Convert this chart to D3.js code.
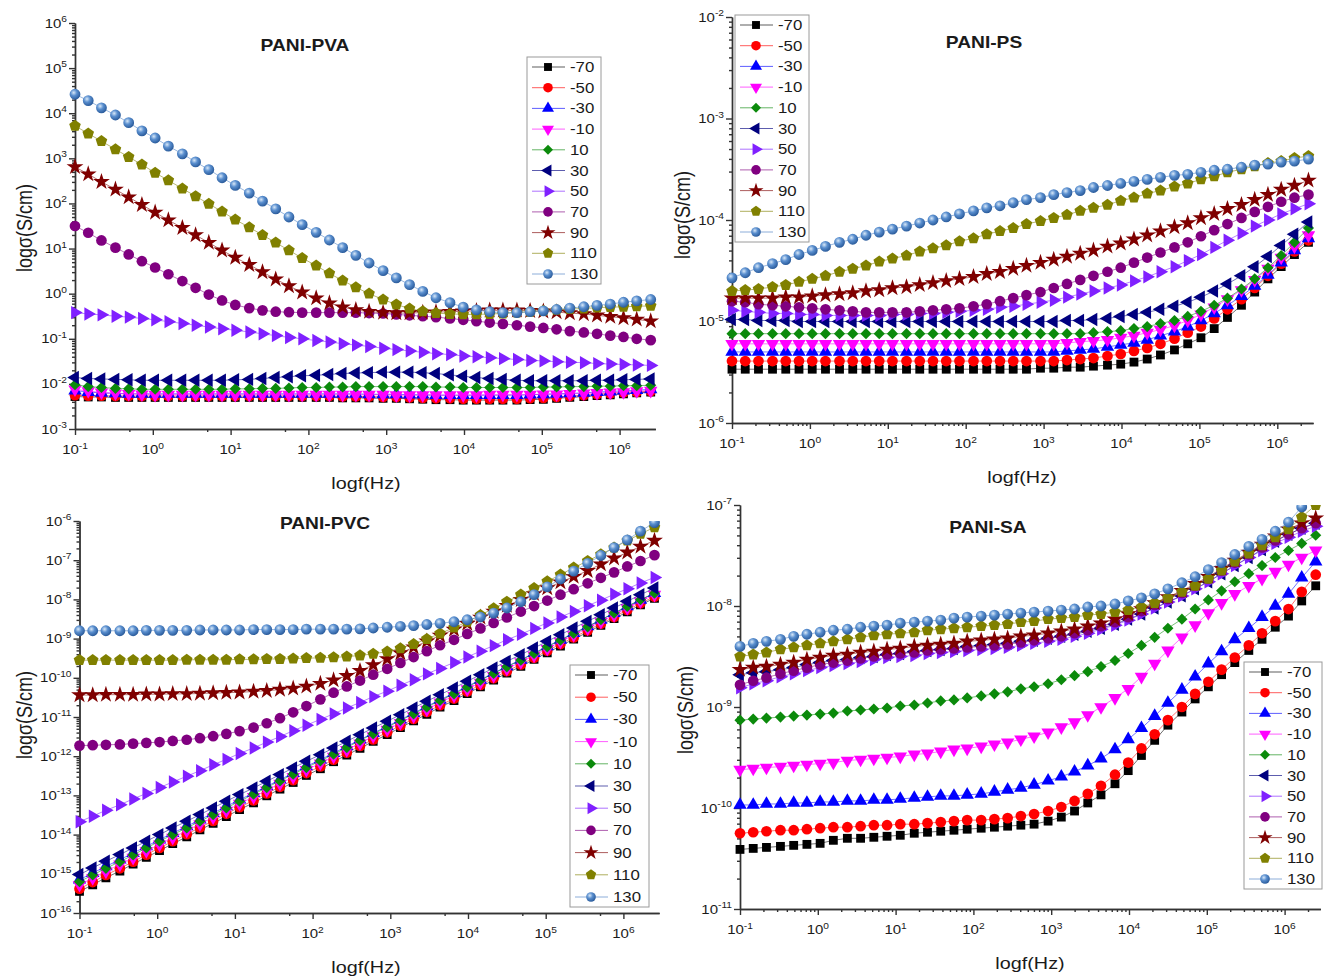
<!DOCTYPE html>
<html lang="en">
<head>
<meta charset="UTF-8">
<title>PANI composites - log conductivity vs log frequency</title>
<script src="https://d3js.org/d3.v7.min.js"></script>
<style>
  body { margin: 0; background: #fff; }
  svg text { font-family: "Liberation Sans", Arial, sans-serif; fill: #1a1a1a; }
</style>
</head>
<body>
<svg width="1330" height="977"></svg>
<script>
// legend labels (temperature of each run)
var temps = ["-70", "-50", "-30", "-10", "10", "30", "50", "70", "90", "110", "130"];

// log10 of the measuring frequencies (Hz), same for every run
var logF = [-1.00,-0.83,-0.66,-0.48,-0.31,-0.14,0.03,0.20,0.38,0.55,0.72,
            0.89,1.06,1.24,1.41,1.58,1.75,1.92,2.10,2.27,2.44,2.61,
            2.78,2.96,3.13,3.30,3.47,3.64,3.82,3.99,4.16,4.33,4.50,
            4.68,4.85,5.02,5.19,5.36,5.54,5.71,5.88,6.05,6.22,6.40];

// ---- PANI-PVA, log10(sigma) ----
var pvaM70 = [-2.28,-2.29,-2.29,-2.30,-2.30,-2.30,-2.30,-2.30,-2.30,-2.30,-2.30,
              -2.30,-2.30,-2.30,-2.30,-2.30,-2.30,-2.30,-2.30,-2.30,-2.31,-2.31,
              -2.31,-2.32,-2.32,-2.33,-2.34,-2.35,-2.35,-2.36,-2.36,-2.36,-2.36,
              -2.36,-2.35,-2.34,-2.32,-2.30,-2.28,-2.26,-2.24,-2.22,-2.20,-2.18];
var pvaM50 = [-2.25,-2.26,-2.26,-2.27,-2.27,-2.27,-2.27,-2.27,-2.27,-2.27,-2.27,
              -2.27,-2.27,-2.27,-2.27,-2.27,-2.27,-2.27,-2.27,-2.27,-2.28,-2.28,
              -2.28,-2.29,-2.29,-2.30,-2.31,-2.32,-2.32,-2.33,-2.33,-2.33,-2.33,
              -2.33,-2.32,-2.31,-2.29,-2.27,-2.25,-2.23,-2.21,-2.19,-2.18,-2.16];
var pvaM30 = [-2.15,-2.18,-2.20,-2.21,-2.22,-2.22,-2.22,-2.22,-2.22,-2.22,-2.22,
              -2.22,-2.22,-2.22,-2.22,-2.22,-2.22,-2.22,-2.22,-2.22,-2.22,-2.22,
              -2.23,-2.23,-2.23,-2.24,-2.24,-2.25,-2.25,-2.25,-2.25,-2.25,-2.25,
              -2.25,-2.24,-2.23,-2.22,-2.21,-2.20,-2.18,-2.17,-2.15,-2.14,-2.12];
var pvaM10 = [-2.12,-2.16,-2.19,-2.21,-2.22,-2.23,-2.24,-2.24,-2.24,-2.24,-2.24,
              -2.24,-2.24,-2.24,-2.24,-2.24,-2.24,-2.24,-2.24,-2.24,-2.24,-2.24,
              -2.24,-2.24,-2.25,-2.25,-2.25,-2.25,-2.25,-2.25,-2.25,-2.24,-2.24,
              -2.24,-2.24,-2.23,-2.23,-2.22,-2.21,-2.20,-2.19,-2.18,-2.16,-2.15];
var pvaP10 = [-2.02,-2.06,-2.08,-2.10,-2.11,-2.12,-2.12,-2.12,-2.12,-2.12,-2.12,
              -2.12,-2.11,-2.11,-2.10,-2.10,-2.09,-2.08,-2.08,-2.07,-2.07,-2.06,
              -2.06,-2.06,-2.06,-2.06,-2.06,-2.07,-2.07,-2.08,-2.08,-2.08,-2.08,
              -2.08,-2.08,-2.07,-2.07,-2.06,-2.06,-2.05,-2.05,-2.04,-2.04,-2.03];
var pvaP30 = [-1.86,-1.88,-1.89,-1.90,-1.91,-1.92,-1.92,-1.92,-1.92,-1.92,-1.92,
              -1.92,-1.91,-1.90,-1.88,-1.86,-1.84,-1.82,-1.81,-1.79,-1.77,-1.76,
              -1.75,-1.74,-1.74,-1.74,-1.75,-1.77,-1.80,-1.83,-1.86,-1.88,-1.90,
              -1.92,-1.93,-1.93,-1.93,-1.93,-1.93,-1.92,-1.92,-1.91,-1.90,-1.89];
var pvaP50 = [-0.42,-0.45,-0.47,-0.50,-0.52,-0.55,-0.58,-0.62,-0.66,-0.70,-0.74,
              -0.78,-0.81,-0.85,-0.89,-0.93,-0.97,-1.00,-1.04,-1.07,-1.11,-1.14,
              -1.17,-1.21,-1.24,-1.27,-1.30,-1.33,-1.35,-1.38,-1.40,-1.42,-1.44,
              -1.46,-1.48,-1.49,-1.51,-1.52,-1.53,-1.55,-1.56,-1.57,-1.58,-1.59];
var pvaP70 = [1.50,1.35,1.18,1.02,0.87,0.72,0.58,0.43,0.28,0.13,-0.02,
              -0.15,-0.25,-0.32,-0.37,-0.40,-0.41,-0.42,-0.42,-0.42,-0.42,-0.42,
              -0.43,-0.44,-0.46,-0.48,-0.50,-0.52,-0.55,-0.58,-0.61,-0.64,-0.67,
              -0.70,-0.73,-0.76,-0.79,-0.83,-0.86,-0.89,-0.93,-0.96,-1.00,-1.03];
var pvaP90 = [2.81,2.65,2.48,2.31,2.14,1.97,1.80,1.63,1.46,1.30,1.13,
              0.96,0.80,0.64,0.48,0.32,0.17,0.03,-0.10,-0.21,-0.30,-0.36,
              -0.40,-0.42,-0.43,-0.43,-0.42,-0.41,-0.40,-0.39,-0.38,-0.37,-0.37,
              -0.37,-0.38,-0.39,-0.41,-0.43,-0.45,-0.48,-0.51,-0.54,-0.57,-0.61];
var pvaP110 = [3.72,3.55,3.38,3.20,3.03,2.86,2.68,2.51,2.33,2.16,1.99,
               1.82,1.64,1.47,1.30,1.13,0.96,0.79,0.62,0.45,0.29,0.14,
               0.00,-0.13,-0.24,-0.33,-0.39,-0.43,-0.45,-0.46,-0.46,-0.45,-0.44,
               -0.42,-0.40,-0.38,-0.36,-0.34,-0.33,-0.31,-0.30,-0.29,-0.28,-0.27];
var pvaP130 = [4.42,4.28,4.12,3.96,3.79,3.61,3.45,3.27,3.10,2.92,2.75,
               2.57,2.40,2.23,2.05,1.88,1.70,1.53,1.36,1.19,1.02,0.85,
               0.68,0.51,0.35,0.20,0.05,-0.09,-0.20,-0.30,-0.36,-0.40,-0.42,
               -0.42,-0.40,-0.38,-0.35,-0.32,-0.29,-0.26,-0.23,-0.19,-0.16,-0.13];

// ---- PANI-PS ----
var psM70 = [-5.47,-5.47,-5.47,-5.47,-5.47,-5.47,-5.47,-5.47,-5.47,-5.47,-5.47,
             -5.47,-5.47,-5.47,-5.47,-5.47,-5.47,-5.47,-5.47,-5.47,-5.47,-5.47,
             -5.47,-5.46,-5.46,-5.45,-5.45,-5.44,-5.43,-5.42,-5.40,-5.37,-5.33,
             -5.28,-5.22,-5.16,-5.07,-4.96,-4.84,-4.71,-4.58,-4.46,-4.34,-4.22];
var psM50 = [-5.39,-5.39,-5.39,-5.39,-5.39,-5.39,-5.39,-5.39,-5.39,-5.39,-5.39,
             -5.39,-5.39,-5.39,-5.39,-5.39,-5.39,-5.39,-5.39,-5.39,-5.39,-5.39,
             -5.39,-5.39,-5.39,-5.38,-5.37,-5.36,-5.34,-5.32,-5.29,-5.26,-5.22,
             -5.17,-5.11,-5.05,-4.97,-4.88,-4.78,-4.67,-4.55,-4.43,-4.31,-4.20];
var psM30 = [-5.30,-5.30,-5.30,-5.30,-5.30,-5.30,-5.30,-5.30,-5.30,-5.30,-5.30,
             -5.30,-5.30,-5.30,-5.30,-5.30,-5.30,-5.30,-5.30,-5.30,-5.30,-5.30,
             -5.30,-5.30,-5.30,-5.29,-5.28,-5.27,-5.25,-5.23,-5.21,-5.18,-5.14,
             -5.10,-5.05,-4.99,-4.92,-4.84,-4.75,-4.65,-4.54,-4.42,-4.30,-4.18];
var psM10 = [-5.22,-5.22,-5.22,-5.22,-5.22,-5.22,-5.22,-5.22,-5.22,-5.22,-5.22,
             -5.22,-5.22,-5.22,-5.22,-5.22,-5.22,-5.22,-5.22,-5.22,-5.22,-5.22,
             -5.22,-5.22,-5.22,-5.21,-5.20,-5.19,-5.18,-5.16,-5.14,-5.11,-5.08,
             -5.04,-4.99,-4.93,-4.86,-4.78,-4.69,-4.59,-4.48,-4.37,-4.26,-4.15];
var psP10 = [-5.12,-5.12,-5.12,-5.12,-5.12,-5.12,-5.12,-5.12,-5.12,-5.12,-5.12,
             -5.12,-5.12,-5.12,-5.12,-5.12,-5.12,-5.12,-5.12,-5.12,-5.12,-5.12,
             -5.12,-5.12,-5.12,-5.12,-5.12,-5.11,-5.10,-5.09,-5.07,-5.05,-5.02,
             -4.99,-4.95,-4.90,-4.84,-4.77,-4.68,-4.58,-4.47,-4.35,-4.22,-4.08];
var psP30 = [-4.98,-4.98,-4.99,-4.99,-4.99,-5.00,-5.00,-5.00,-5.00,-5.00,-5.00,
             -5.00,-5.00,-5.00,-5.00,-5.00,-5.00,-5.00,-5.00,-5.00,-5.00,-5.00,
             -5.00,-5.00,-5.00,-4.99,-4.99,-4.98,-4.97,-4.95,-4.93,-4.91,-4.88,
             -4.85,-4.81,-4.76,-4.70,-4.63,-4.55,-4.46,-4.36,-4.25,-4.14,-4.02];
var psP50 = [-4.89,-4.90,-4.91,-4.92,-4.92,-4.93,-4.93,-4.94,-4.94,-4.94,-4.94,
             -4.94,-4.93,-4.93,-4.92,-4.92,-4.91,-4.90,-4.89,-4.88,-4.86,-4.85,
             -4.83,-4.81,-4.79,-4.76,-4.73,-4.70,-4.67,-4.64,-4.60,-4.56,-4.51,
             -4.46,-4.40,-4.34,-4.27,-4.20,-4.13,-4.06,-4.00,-3.94,-3.89,-3.84];
var psP70 = [-4.80,-4.81,-4.83,-4.84,-4.85,-4.86,-4.87,-4.88,-4.89,-4.90,-4.91,
             -4.91,-4.91,-4.91,-4.90,-4.89,-4.88,-4.87,-4.85,-4.83,-4.80,-4.77,
             -4.74,-4.71,-4.67,-4.63,-4.59,-4.55,-4.51,-4.47,-4.42,-4.37,-4.32,
             -4.27,-4.22,-4.16,-4.10,-4.04,-3.98,-3.92,-3.87,-3.82,-3.78,-3.75];
var psP90 = [-4.77,-4.77,-4.77,-4.77,-4.76,-4.76,-4.75,-4.74,-4.73,-4.72,-4.70,
             -4.69,-4.67,-4.66,-4.64,-4.62,-4.60,-4.58,-4.56,-4.53,-4.51,-4.48,
             -4.45,-4.42,-4.39,-4.36,-4.33,-4.30,-4.26,-4.23,-4.19,-4.15,-4.11,
             -4.07,-4.03,-3.98,-3.94,-3.89,-3.85,-3.80,-3.75,-3.70,-3.66,-3.61];
var psP110 = [-4.70,-4.69,-4.68,-4.66,-4.64,-4.61,-4.58,-4.55,-4.51,-4.48,-4.45,
              -4.41,-4.38,-4.35,-4.31,-4.28,-4.25,-4.21,-4.18,-4.14,-4.11,-4.08,
              -4.04,-4.01,-3.98,-3.95,-3.91,-3.88,-3.85,-3.81,-3.78,-3.74,-3.71,
              -3.67,-3.64,-3.60,-3.57,-3.53,-3.50,-3.47,-3.44,-3.42,-3.39,-3.37];
var psP130 = [-4.57,-4.52,-4.47,-4.43,-4.39,-4.34,-4.30,-4.26,-4.22,-4.19,-4.15,
              -4.12,-4.09,-4.06,-4.03,-4.00,-3.97,-3.94,-3.91,-3.88,-3.86,-3.83,
              -3.80,-3.78,-3.75,-3.73,-3.71,-3.68,-3.66,-3.64,-3.62,-3.60,-3.58,
              -3.56,-3.55,-3.53,-3.51,-3.50,-3.48,-3.46,-3.45,-3.43,-3.42,-3.40];

// ---- PANI-PVC ----
var pvcM70 = [-15.45,-15.28,-15.10,-14.93,-14.75,-14.58,-14.41,-14.23,-14.06,-13.88,-13.71,
              -13.54,-13.36,-13.19,-13.01,-12.84,-12.67,-12.49,-12.32,-12.14,-11.97,-11.80,
              -11.62,-11.45,-11.27,-11.10,-10.93,-10.75,-10.58,-10.40,-10.23,-10.06,-9.88,
              -9.71,-9.53,-9.36,-9.19,-9.01,-8.84,-8.66,-8.49,-8.32,-8.14,-7.97];
var pvcM50 = [-15.38,-15.21,-15.03,-14.86,-14.69,-14.51,-14.34,-14.17,-13.99,-13.82,-13.65,
              -13.47,-13.30,-13.13,-12.95,-12.78,-12.61,-12.43,-12.26,-12.09,-11.91,-11.74,
              -11.57,-11.39,-11.22,-11.05,-10.87,-10.70,-10.53,-10.35,-10.18,-10.01,-9.83,
              -9.66,-9.49,-9.31,-9.14,-8.97,-8.79,-8.62,-8.45,-8.27,-8.10,-7.93];
var pvcM30 = [-15.15,-14.98,-14.81,-14.64,-14.47,-14.30,-14.13,-13.96,-13.79,-13.62,-13.45,
              -13.28,-13.11,-12.94,-12.77,-12.60,-12.43,-12.26,-12.09,-11.92,-11.75,-11.58,
              -11.41,-11.24,-11.07,-10.90,-10.73,-10.56,-10.39,-10.22,-10.05,-9.88,-9.71,
              -9.54,-9.37,-9.20,-9.03,-8.86,-8.69,-8.52,-8.35,-8.18,-8.01,-7.84];
var pvcM10 = [-15.28,-15.11,-14.94,-14.76,-14.59,-14.42,-14.25,-14.08,-13.90,-13.73,-13.56,
              -13.39,-13.21,-13.04,-12.87,-12.70,-12.53,-12.35,-12.18,-12.01,-11.84,-11.67,
              -11.49,-11.32,-11.15,-10.98,-10.81,-10.63,-10.46,-10.29,-10.12,-9.95,-9.77,
              -9.60,-9.43,-9.26,-9.08,-8.91,-8.74,-8.57,-8.40,-8.22,-8.05,-7.88];
var pvcP10 = [-15.20,-15.03,-14.86,-14.69,-14.52,-14.34,-14.17,-14.00,-13.83,-13.66,-13.49,
              -13.32,-13.15,-12.97,-12.80,-12.63,-12.46,-12.29,-12.12,-11.95,-11.78,-11.60,
              -11.43,-11.26,-11.09,-10.92,-10.75,-10.58,-10.41,-10.24,-10.06,-9.89,-9.72,
              -9.55,-9.38,-9.21,-9.04,-8.87,-8.70,-8.52,-8.35,-8.18,-8.01,-7.84];
var pvcP30 = [-15.02,-14.85,-14.68,-14.51,-14.34,-14.17,-14.00,-13.83,-13.66,-13.49,-13.32,
              -13.15,-12.98,-12.81,-12.64,-12.47,-12.30,-12.13,-11.96,-11.79,-11.62,-11.45,
              -11.28,-11.11,-10.94,-10.77,-10.60,-10.43,-10.26,-10.09,-9.92,-9.75,-9.58,
              -9.41,-9.24,-9.07,-8.90,-8.73,-8.56,-8.39,-8.22,-8.05,-7.88,-7.71];
var pvcP50 = [-13.67,-13.53,-13.38,-13.24,-13.09,-12.95,-12.80,-12.66,-12.51,-12.37,-12.22,
              -12.08,-11.93,-11.79,-11.64,-11.50,-11.35,-11.21,-11.06,-10.92,-10.77,-10.63,
              -10.48,-10.34,-10.19,-10.05,-9.90,-9.76,-9.61,-9.47,-9.32,-9.18,-9.03,
              -8.89,-8.74,-8.60,-8.45,-8.31,-8.16,-8.02,-7.87,-7.73,-7.58,-7.44];
var pvcP70 = [-11.73,-11.72,-11.71,-11.70,-11.68,-11.66,-11.64,-11.61,-11.58,-11.54,-11.49,
              -11.43,-11.36,-11.27,-11.16,-11.03,-10.88,-10.72,-10.55,-10.38,-10.22,-10.07,
              -9.92,-9.77,-9.62,-9.47,-9.32,-9.17,-9.03,-8.88,-8.74,-8.60,-8.46,
              -8.31,-8.17,-8.03,-7.88,-7.74,-7.59,-7.45,-7.31,-7.16,-7.02,-6.87];
var pvcP90 = [-10.44,-10.44,-10.43,-10.43,-10.43,-10.42,-10.42,-10.41,-10.41,-10.40,-10.39,
              -10.38,-10.37,-10.35,-10.33,-10.30,-10.27,-10.22,-10.15,-10.06,-9.95,-9.82,
              -9.67,-9.52,-9.37,-9.22,-9.07,-8.92,-8.77,-8.62,-8.46,-8.31,-8.16,
              -8.01,-7.86,-7.71,-7.56,-7.42,-7.27,-7.10,-6.95,-6.80,-6.65,-6.50];
var pvcP110 = [-9.55,-9.55,-9.55,-9.55,-9.55,-9.55,-9.55,-9.55,-9.54,-9.54,-9.54,
               -9.54,-9.53,-9.53,-9.52,-9.52,-9.51,-9.50,-9.49,-9.48,-9.46,-9.43,
               -9.39,-9.33,-9.25,-9.14,-9.01,-8.87,-8.72,-8.57,-8.40,-8.23,-8.06,
               -7.88,-7.71,-7.54,-7.37,-7.19,-7.02,-6.85,-6.68,-6.50,-6.33,-6.16];
var pvcP130 = [-8.80,-8.80,-8.80,-8.80,-8.80,-8.79,-8.79,-8.79,-8.79,-8.78,-8.78,
               -8.78,-8.78,-8.77,-8.77,-8.77,-8.77,-8.76,-8.76,-8.76,-8.76,-8.75,
               -8.73,-8.71,-8.69,-8.67,-8.64,-8.61,-8.57,-8.52,-8.45,-8.35,-8.22,
               -8.06,-7.88,-7.68,-7.48,-7.28,-7.08,-6.88,-6.68,-6.48,-6.26,-6.04];

// ---- PANI-SA ----
var saM70 = [-10.41,-10.40,-10.39,-10.38,-10.37,-10.36,-10.35,-10.32,-10.30,-10.30,-10.29,
             -10.28,-10.27,-10.25,-10.24,-10.23,-10.22,-10.21,-10.20,-10.19,-10.18,-10.17,
             -10.16,-10.13,-10.09,-10.03,-9.95,-9.87,-9.76,-9.63,-9.48,-9.33,-9.18,
             -9.05,-8.92,-8.80,-8.68,-8.56,-8.44,-8.33,-8.21,-8.10,-7.95,-7.80];
var saM50 = [-10.25,-10.24,-10.23,-10.22,-10.22,-10.21,-10.20,-10.19,-10.19,-10.18,-10.17,
             -10.17,-10.16,-10.16,-10.15,-10.14,-10.13,-10.12,-10.12,-10.11,-10.10,-10.08,
             -10.06,-10.03,-9.99,-9.93,-9.86,-9.78,-9.67,-9.55,-9.41,-9.27,-9.13,
             -9.00,-8.87,-8.75,-8.63,-8.51,-8.39,-8.27,-8.15,-8.03,-7.86,-7.69];
var saM30 = [-9.97,-9.97,-9.96,-9.96,-9.95,-9.95,-9.94,-9.94,-9.93,-9.93,-9.92,
             -9.92,-9.91,-9.90,-9.89,-9.88,-9.88,-9.87,-9.86,-9.84,-9.82,-9.80,
             -9.77,-9.73,-9.69,-9.64,-9.58,-9.51,-9.42,-9.32,-9.21,-9.09,-8.96,
             -8.83,-8.70,-8.57,-8.45,-8.33,-8.22,-8.11,-8.00,-7.88,-7.72,-7.56];
var saM10 = [-9.62,-9.61,-9.60,-9.59,-9.58,-9.57,-9.56,-9.55,-9.53,-9.52,-9.51,
             -9.50,-9.49,-9.47,-9.46,-9.44,-9.42,-9.41,-9.39,-9.37,-9.35,-9.32,
             -9.29,-9.25,-9.20,-9.15,-9.08,-9.00,-8.91,-8.82,-8.70,-8.57,-8.44,
             -8.31,-8.19,-8.07,-7.97,-7.88,-7.80,-7.73,-7.66,-7.59,-7.52,-7.45];
var saP10 = [-9.13,-9.12,-9.11,-9.10,-9.09,-9.08,-9.07,-9.06,-9.04,-9.03,-9.02,
             -9.01,-8.99,-8.98,-8.96,-8.94,-8.93,-8.91,-8.89,-8.87,-8.85,-8.82,
             -8.80,-8.77,-8.73,-8.69,-8.65,-8.60,-8.54,-8.47,-8.39,-8.31,-8.22,
             -8.13,-8.03,-7.94,-7.85,-7.76,-7.68,-7.60,-7.52,-7.45,-7.38,-7.30];
var saP30 = [-8.68,-8.66,-8.65,-8.63,-8.61,-8.58,-8.56,-8.54,-8.53,-8.51,-8.50,
             -8.48,-8.47,-8.45,-8.44,-8.43,-8.42,-8.40,-8.39,-8.38,-8.37,-8.35,
             -8.34,-8.32,-8.30,-8.28,-8.25,-8.22,-8.18,-8.13,-8.08,-8.02,-7.96,
             -7.90,-7.83,-7.76,-7.68,-7.60,-7.52,-7.44,-7.36,-7.29,-7.23,-7.18];
var saP50 = [-8.81,-8.77,-8.74,-8.70,-8.67,-8.64,-8.61,-8.59,-8.57,-8.55,-8.53,
             -8.51,-8.50,-8.49,-8.47,-8.46,-8.45,-8.44,-8.43,-8.42,-8.41,-8.39,
             -8.37,-8.35,-8.33,-8.30,-8.27,-8.23,-8.19,-8.14,-8.08,-8.02,-7.96,
             -7.90,-7.83,-7.76,-7.68,-7.60,-7.52,-7.45,-7.38,-7.32,-7.26,-7.21];
var saP70 = [-8.78,-8.74,-8.71,-8.67,-8.64,-8.61,-8.58,-8.56,-8.54,-8.52,-8.50,
             -8.48,-8.47,-8.46,-8.44,-8.43,-8.42,-8.41,-8.40,-8.39,-8.38,-8.36,
             -8.34,-8.32,-8.30,-8.27,-8.24,-8.20,-8.16,-8.11,-8.05,-7.99,-7.93,
             -7.87,-7.80,-7.73,-7.65,-7.57,-7.49,-7.42,-7.35,-7.29,-7.23,-7.18];
var saP90 = [-8.63,-8.61,-8.60,-8.58,-8.56,-8.53,-8.51,-8.49,-8.48,-8.46,-8.45,
             -8.43,-8.42,-8.40,-8.39,-8.38,-8.37,-8.35,-8.34,-8.33,-8.32,-8.30,
             -8.29,-8.27,-8.25,-8.23,-8.20,-8.17,-8.13,-8.08,-8.03,-7.97,-7.91,
             -7.85,-7.78,-7.71,-7.63,-7.55,-7.47,-7.39,-7.31,-7.24,-7.18,-7.13];
var saP110 = [-8.50,-8.48,-8.46,-8.43,-8.41,-8.39,-8.37,-8.35,-8.33,-8.31,-8.29,
              -8.28,-8.27,-8.26,-8.24,-8.23,-8.22,-8.21,-8.20,-8.19,-8.18,-8.16,
              -8.15,-8.13,-8.12,-8.11,-8.09,-8.08,-8.06,-8.04,-8.01,-7.97,-7.92,
              -7.86,-7.80,-7.73,-7.65,-7.56,-7.48,-7.40,-7.32,-7.24,-7.12,-7.00];
var saP130 = [-8.40,-8.37,-8.35,-8.33,-8.30,-8.28,-8.26,-8.24,-8.23,-8.21,-8.20,
              -8.19,-8.17,-8.16,-8.15,-8.14,-8.12,-8.11,-8.10,-8.09,-8.08,-8.07,
              -8.06,-8.05,-8.04,-8.03,-8.01,-8.00,-7.98,-7.95,-7.92,-7.88,-7.83,
              -7.77,-7.71,-7.64,-7.57,-7.49,-7.41,-7.34,-7.26,-7.17,-7.02,-6.88];

var colors = ["#000000", "#ff0000", "#0000ff", "#ff00ff", "#0b8a0b", "#00007f",
              "#8020ff", "#800080", "#7f0000", "#808000", "#4a80c4"];
var shapes = ["square", "circle", "triUp", "triDown", "diamond", "triLeft",
              "triRight", "circle", "star", "pentagon", "sphere"];

// text in the source figure is drawn a bit wider than tall
var SX = 1.2;

var panels = [
    { title: "PANI-PVA", series: [pvaM70, pvaM50, pvaM30, pvaM10, pvaP10, pvaP30, pvaP50, pvaP70, pvaP90, pvaP110, pvaP130],
      left: 75, decade: 77.8, top: 23, bottom: 429, yLo: -3, yHi: 6, xMinor: [5],
      titleX: 305, titleY: 51, xTitleX: 366, yTitleX: 24, yTitleY: 228, legend: [527, 57, 74, 227] },
    { title: "PANI-PS", series: [psM70, psM50, psM30, psM10, psP10, psP30, psP50, psP70, psP90, psP110, psP130],
      left: 732, decade: 77.9, top: 17, bottom: 423, yLo: -6, yHi: -2, xMinor: [2,3,4,5,6,7,8,9],
      titleX: 984, titleY: 48, xTitleX: 1022, yTitleX: 682, yTitleY: 215, legend: [735, 15, 74, 227] },
    { title: "PANI-PVC", series: [pvcM70, pvcM50, pvcM30, pvcM10, pvcP10, pvcP30, pvcP50, pvcP70, pvcP90, pvcP110, pvcP130],
      left: 79.5, decade: 77.7, top: 521, bottom: 913, yLo: -16, yHi: -6, xMinor: [5],
      titleX: 325, titleY: 529, xTitleX: 366, yTitleX: 24, yTitleY: 715, legend: [570, 665, 79, 242] },
    { title: "PANI-SA", series: [saM70, saM50, saM30, saM10, saP10, saP30, saP50, saP70, saP90, saP110, saP130],
      left: 740, decade: 77.8, top: 505, bottom: 909, yLo: -11, yHi: -7, xMinor: [2,3,4,5,6,7,8,9],
      titleX: 988, titleY: 533, xTitleX: 1030, yTitleX: 685, yTitleY: 710, legend: [1244, 662, 78, 227] }
];

var svg = d3.select("svg");
var defs = svg.append("defs");

// shaded ball used for the 130 run
var grad = defs.append("radialGradient").attr("id", "ball")
    .attr("cx", "38%").attr("cy", "35%").attr("r", "65%");
grad.append("stop").attr("offset", "0%").attr("stop-color", "#d8e8f8");
grad.append("stop").attr("offset", "45%").attr("stop-color", "#5a8fcf");
grad.append("stop").attr("offset", "100%").attr("stop-color", "#2b5c9c");

var pentagon = {
    draw: function (ctx, size) {
        var r = Math.sqrt(size / (2.5 * Math.sin(2 * Math.PI / 5)));
        for (var i = 0; i < 5; i++) {
            var a = -Math.PI / 2 + i * 2 * Math.PI / 5;
            if (i === 0) ctx.moveTo(r * Math.cos(a), r * Math.sin(a));
            else ctx.lineTo(r * Math.cos(a), r * Math.sin(a));
        }
        ctx.closePath();
    }
};

function marker(shape, k) {
    k = k || 1;
    var sym = d3.symbol();
    switch (shape) {
        case "square":   return { d: sym.type(d3.symbolSquare).size(78 * k)(), rot: 0 };
        case "circle":   return { d: sym.type(d3.symbolCircle).size(90 * k)(), rot: 0 };
        case "triUp":    return { d: sym.type(d3.symbolTriangle).size(78 * k)(), rot: 0 };
        case "triDown":  return { d: sym.type(d3.symbolTriangle).size(78 * k)(), rot: 180 };
        case "triLeft":  return { d: sym.type(d3.symbolTriangle).size(78 * k)(), rot: -90 };
        case "triRight": return { d: sym.type(d3.symbolTriangle).size(78 * k)(), rot: 90 };
        case "diamond":  return { d: sym.type(d3.symbolSquare).size(62 * k)(), rot: 45 };
        case "star":     return { d: sym.type(d3.symbolStar).size(88 * k)(), rot: 0 };
        case "pentagon": return { d: sym.type(pentagon).size(88 * k)(), rot: 0 };
        default:         return { d: sym.type(d3.symbolCircle).size(92 * k)(), rot: 0 };
    }
}

function sText(g, x, y, str, size, anchor, weight) {
    return g.append("text")
        .attr("transform", "translate(" + x + "," + y + ") scale(" + SX + ",1)")
        .attr("text-anchor", anchor)
        .style("font-size", size + "px")
        .style("font-weight", weight || "normal")
        .text(str);
}

function powLabel(g, x, y, exp, anchor) {
    var t = sText(g, x, y, "", 12.5, anchor);
    t.append("tspan").text("10");
    t.append("tspan").attr("dy", -5.5).style("font-size", "8.5px").text(exp);
    return t;
}

panels.forEach(function (p, pi) {
    var g = svg.append("g");
    var xEnd = 6.46;
    var right = p.left + (xEnd + 1) * p.decade;

    var x = d3.scaleLog().domain([0.1, Math.pow(10, xEnd)]).range([p.left, right]);
    var y = d3.scaleLog().domain([Math.pow(10, p.yLo), Math.pow(10, p.yHi)]).range([p.bottom, p.top]);

    var xMajor = d3.range(-1, 7).map(function (e) { return Math.pow(10, e); });
    var xMin = [];
    d3.range(-1, 7).forEach(function (e) {
        p.xMinor.forEach(function (m) {
            var v = m * Math.pow(10, e);
            if (v <= Math.pow(10, xEnd)) xMin.push(v);
        });
    });
    var yMajor = d3.range(p.yLo, p.yHi + 1).map(function (e) { return Math.pow(10, e); });
    var yMin = [];
    d3.range(p.yLo, p.yHi).forEach(function (e) {
        d3.range(2, 10).forEach(function (m) { yMin.push(m * Math.pow(10, e)); });
    });

    // axes (left + bottom only, Origin style)
    var axStyle = function (sel) {
        sel.selectAll("path, line").attr("stroke", "#333").attr("stroke-width", 1.4);
        sel.selectAll("text").remove();
    };
    g.append("g").attr("transform", "translate(0," + p.bottom + ")")
        .call(d3.axisBottom(x).tickValues(xMin).tickSize(3).tickSizeOuter(0)).call(axStyle);
    g.append("g").attr("transform", "translate(0," + p.bottom + ")")
        .call(d3.axisBottom(x).tickValues(xMajor).tickSize(6).tickSizeOuter(0)).call(axStyle);
    g.append("g").attr("transform", "translate(" + p.left + ",0)")
        .call(d3.axisLeft(y).tickValues(yMin).tickSize(3).tickSizeOuter(0)).call(axStyle);
    g.append("g").attr("transform", "translate(" + p.left + ",0)")
        .call(d3.axisLeft(y).tickValues(yMajor).tickSize(6).tickSizeOuter(0)).call(axStyle);

    xMajor.forEach(function (v, i) {
        powLabel(g, x(v), p.bottom + 25, String(i - 1), "middle");
    });
    yMajor.forEach(function (v, i) {
        powLabel(g, p.left - 8, y(v) + 4.5, String(p.yLo + i), "end");
    });

    // clip only at the top edge, markers may overlap the axes
    var clipId = "clip" + pi;
    defs.append("clipPath").attr("id", clipId).append("rect")
        .attr("x", p.left - 12).attr("y", p.top)
        .attr("width", right - p.left + 24).attr("height", p.bottom - p.top + 12);

    var plot = g.append("g").attr("clip-path", "url(#" + clipId + ")");
    var line = d3.line()
        .x(function (d) { return x(d.f); })
        .y(function (d) { return y(d.s); });

    p.series.forEach(function (vals, si) {
        var pts = vals.map(function (v, k) { return { f: Math.pow(10, logF[k]), s: Math.pow(10, v) }; });
        var m = marker(shapes[si]);
        var fill = shapes[si] === "sphere" ? "url(#ball)" : colors[si];

        plot.append("path").datum(pts)
            .attr("d", line)
            .attr("fill", "none")
            .attr("stroke", colors[si])
            .attr("stroke-width", 0.8)
            .attr("opacity", 0.7);

        plot.selectAll(".m" + si)
            .data(pts)
            .enter()
            .append("path")
            .attr("class", "m" + si)
            .attr("d", m.d)
            .attr("fill", fill)
            .attr("transform", function (d) {
                return "translate(" + x(d.f) + "," + y(d.s) + ") rotate(" + m.rot + ")";
            });
    });

    // titles
    sText(g, p.titleX, p.titleY, p.title, 16, "middle", "bold");
    sText(g, p.xTitleX, p.bottom + 60, "logf(Hz)", 16.5, "middle");
    g.append("text")
        .attr("transform", "translate(" + p.yTitleX + "," + p.yTitleY + ") scale(" + SX + ",1) rotate(-90)")
        .attr("text-anchor", "middle")
        .attr("dy", "0.35em")
        .style("font-size", "18px")
        .text("logσ(S/cm)");

    // legend
    var L = p.legend;
    var lg = g.append("g");
    lg.append("rect")
        .attr("x", L[0]).attr("y", L[1]).attr("width", L[2]).attr("height", L[3])
        .attr("fill", "#fff").attr("stroke", "#9a9a9a").attr("stroke-width", 1);
    var rowH = (L[3] - 20) / 10;
    temps.forEach(function (t, si) {
        var cy = L[1] + 10 + si * rowH;
        var m = marker(shapes[si], 0.8);
        lg.append("line")
            .attr("x1", L[0] + 5).attr("x2", L[0] + 38)
            .attr("y1", cy).attr("y2", cy)
            .attr("stroke", colors[si]).attr("stroke-width", 0.9).attr("opacity", 0.7);
        lg.append("path")
            .attr("d", m.d)
            .attr("fill", shapes[si] === "sphere" ? "url(#ball)" : colors[si])
            .attr("transform", "translate(" + (L[0] + 21) + "," + cy + ") rotate(" + m.rot + ")");
        sText(lg, L[0] + 43, cy + 5, t, 14, "start");
    });
});
</script>
</body>
</html>
